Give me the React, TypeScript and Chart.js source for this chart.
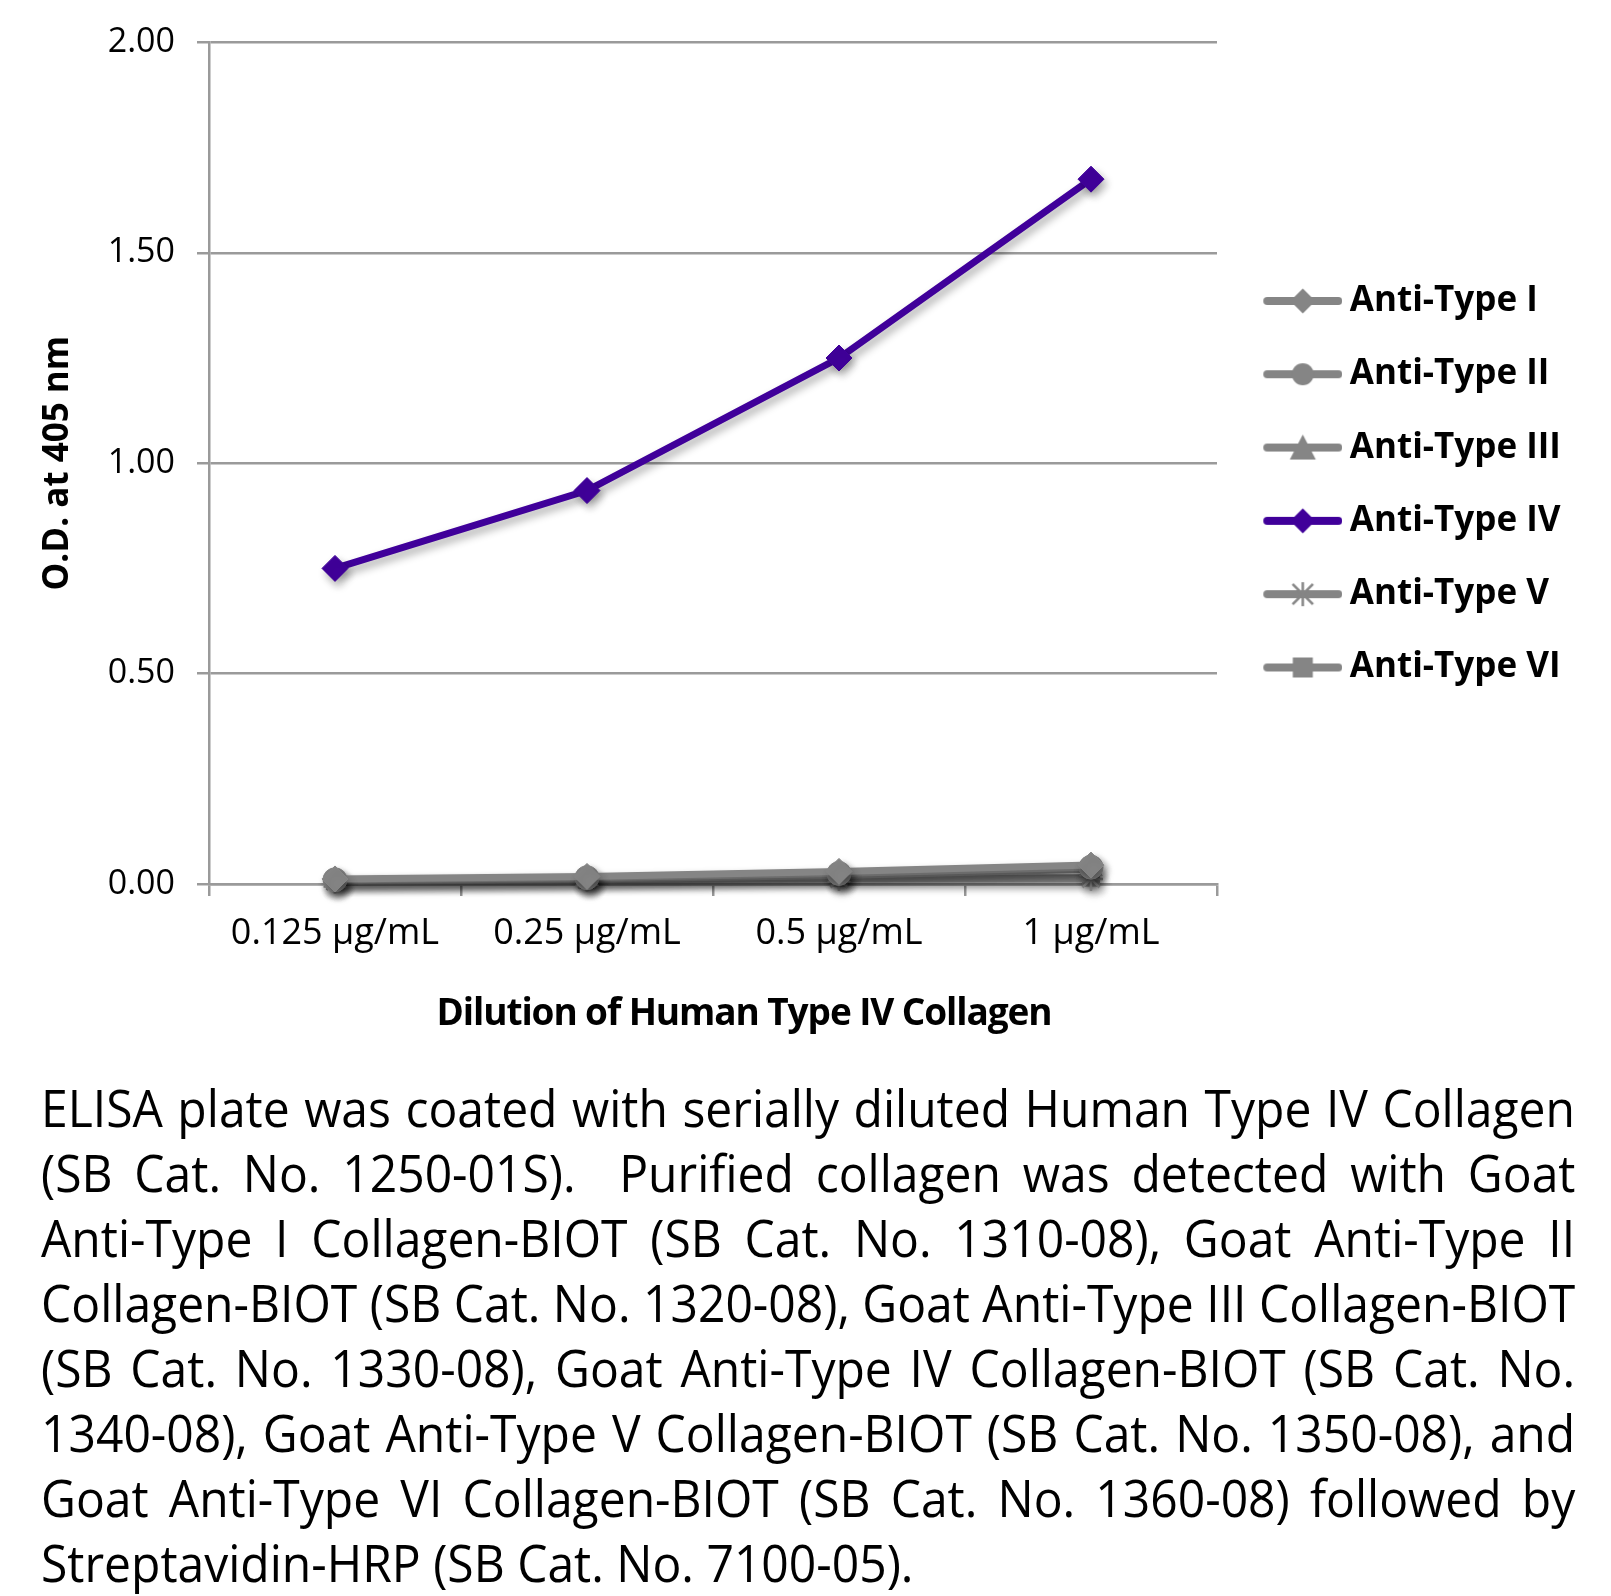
import React, { useEffect, useLayoutEffect, useRef } from 'react';
import { Chart, registerables } from 'chart.js';

Chart.register(...registerables);

// ---------------- data ----------------
const categories = ['0.125 µg/mL', '0.25 µg/mL', '0.5 µg/mL', '1 µg/mL'];
const seriesNames = ['Anti-Type I', 'Anti-Type II', 'Anti-Type III', 'Anti-Type IV', 'Anti-Type V', 'Anti-Type VI'];
const antiTypeI = [0.012, 0.018, 0.03, 0.045];
const antiTypeII = [0.01, 0.015, 0.025, 0.04];
const antiTypeIII = [0.008, 0.012, 0.02, 0.035];
const antiTypeIV = [0.75, 0.935, 1.25, 1.675];
const antiTypeV = [0.006, 0.01, 0.012, 0.012];
const antiTypeVI = [0.008, 0.01, 0.015, 0.015];
const yTickValues = [0, 0.5, 1, 1.5, 2];
const yTitle = 'O.D. at 405 nm';
const xTitle = 'Dilution of Human Type IV Collagen';
const captionLines = [
  'ELISA plate was coated with serially diluted Human Type IV Collagen',
  '(SB Cat. No. 1250-01S).  Purified collagen was detected with Goat',
  'Anti-Type I Collagen-BIOT (SB Cat. No. 1310-08), Goat Anti-Type II',
  'Collagen-BIOT (SB Cat. No. 1320-08), Goat Anti-Type III Collagen-BIOT',
  '(SB Cat. No. 1330-08), Goat Anti-Type IV Collagen-BIOT (SB Cat. No.',
  '1340-08), Goat Anti-Type V Collagen-BIOT (SB Cat. No. 1350-08), and',
  'Goat Anti-Type VI Collagen-BIOT (SB Cat. No. 1360-08) followed by',
  'Streptavidin-HRP (SB Cat. No. 7100-05).',
];

// ---------------- styles ----------------
const GRAY = '#858585';
const PURPLE = '#40009a';
const GRID = '#9a9a9a';
const FONT = "'Open Sans', 'Noto Sans', sans-serif";
const seriesValues = [antiTypeI, antiTypeII, antiTypeIII, antiTypeIV, antiTypeV, antiTypeVI];
const seriesColors = [GRAY, GRAY, GRAY, PURPLE, GRAY, GRAY];
const seriesMarkers = ['rectRot', 'circle', 'triangle', 'rectRot', 'star', 'rect'];
const seriesRadius = [13, 12, 13, 13, 12, 12];

const CANVAS_W = 1611;
const CANVAS_H = 1040;
const CAPTION_W = 1534;

function makeLegendIcon(color: string, marker: string) {
  const c = document.createElement('canvas');
  c.width = 97;
  c.height = 34;
  const g = c.getContext('2d')!;
  const cy = 17;
  g.strokeStyle = color;
  g.fillStyle = color;
  g.lineCap = 'round';
  g.lineWidth = 8;
  g.beginPath();
  g.moveTo(22, cy);
  g.lineTo(93, cy);
  g.stroke();
  const cx = 57.5;
  const r = 12.5;
  g.beginPath();
  if (marker === 'rectRot') {
    g.moveTo(cx, cy - r);
    g.lineTo(cx + r, cy);
    g.lineTo(cx, cy + r);
    g.lineTo(cx - r, cy);
    g.closePath();
    g.fill();
  } else if (marker === 'circle') {
    g.arc(cx, cy, 11, 0, Math.PI * 2);
    g.fill();
  } else if (marker === 'triangle') {
    g.moveTo(cx, cy - 13);
    g.lineTo(cx + 13, cy + 12);
    g.lineTo(cx - 13, cy + 12);
    g.closePath();
    g.fill();
  } else if (marker === 'rect') {
    g.rect(cx - 10, cy - 10, 20, 20);
    g.fill();
  } else if (marker === 'star') {
    g.lineWidth = 2.5;
    g.lineCap = 'butt';
    const a = 12;
    g.moveTo(cx, cy - a);
    g.lineTo(cx, cy + a);
    g.moveTo(cx - a * 0.85, cy - a * 0.85);
    g.lineTo(cx + a * 0.85, cy + a * 0.85);
    g.moveTo(cx + a * 0.85, cy - a * 0.85);
    g.lineTo(cx - a * 0.85, cy + a * 0.85);
    g.stroke();
  }
  return c;
}

const shadowPlugin = {
  id: 'excelShadow',
  beforeDatasetsDraw(chart: any) {
    const ctx = chart.ctx;
    ctx.save();
    ctx.shadowColor = 'rgba(0,0,0,0.32)';
    ctx.shadowBlur = 9;
    ctx.shadowOffsetX = 3;
    ctx.shadowOffsetY = 5;
  },
  afterDatasetsDraw(chart: any) {
    chart.ctx.restore();
  },
};

export default function App() {
  const canvasRef = useRef<HTMLCanvasElement | null>(null);
  const captionRef = useRef<HTMLDivElement | null>(null);
  const lineRefs = useRef<(HTMLSpanElement | null)[]>([]);

  useEffect(() => {
    const canvas = canvasRef.current;
    if (!canvas) return;
    const icons = seriesNames.map((_, i) => makeLegendIcon(seriesColors[i], seriesMarkers[i]));
    const chart = new Chart(canvas, {
      type: 'line',
      data: {
        labels: categories,
        datasets: seriesNames.map((name, i) => ({
          label: name,
          data: seriesValues[i],
          borderColor: seriesColors[i],
          backgroundColor: seriesColors[i],
          borderWidth: 7,
          pointStyle: seriesMarkers[i] as any,
          pointRadius: seriesRadius[i],
          pointHoverRadius: seriesRadius[i],
          pointBackgroundColor: seriesColors[i],
          pointBorderColor: seriesColors[i],
          pointBorderWidth: seriesMarkers[i] === 'star' ? 2.5 : 1,
          tension: 0,
          clip: false as any,
        })),
      },
      options: {
        responsive: false,
        animation: false,
        events: [],
        layout: { padding: { top: 42, left: 0, right: 0, bottom: 56 } },
        plugins: {
          tooltip: { enabled: false },
          legend: {
            position: 'right',
            align: 'center',
            fullSize: false,
            maxWidth: CANVAS_W - 1217,
            title: {
              display: true,
              text: '',
              font: { size: 10 },
              padding: { top: 15, bottom: 15 },
            },
            labels: {
              usePointStyle: true,
              pointStyleWidth: 77,
              padding: 38.3,
              color: '#000',
              font: { family: FONT, size: 35, weight: 'bold' },
              generateLabels: () =>
                seriesNames.map((name, i) => ({
                  text: name + '\u00a0'.repeat(12),
                  fillStyle: seriesColors[i],
                  strokeStyle: seriesColors[i],
                  fontColor: '#000',
                  lineWidth: 0,
                  pointStyle: icons[i] as any,
                  hidden: false,
                  datasetIndex: i,
                })),
            },
          },
        },
        scales: {
          x: {
            type: 'category',
            offset: true,
            afterFit: (s: any) => {
              s.height = 100;
            },
            grid: {
              display: true,
              offset: true,
              drawOnChartArea: false,
              drawTicks: true,
              tickLength: 12,
              color: GRID,
              lineWidth: 2.5,
            },
            border: { display: true, color: GRID, width: 2.5 },
            ticks: {
              color: '#000',
              padding: 16,
              maxRotation: 0,
              autoSkip: false,
              font: { family: FONT, size: 36 },
            },
          },
          y: {
            min: 0,
            max: 2,
            afterFit: (s: any) => {
              s.width = 209;
            },
            afterBuildTicks: (s: any) => {
              s.ticks = yTickValues.map((v) => ({ value: v }));
            },
            grid: {
              color: GRID,
              lineWidth: 2.5,
              drawTicks: true,
              tickLength: 12,
            },
            border: { display: true, color: GRID, width: 2.5 },
            ticks: {
              color: '#000',
              padding: 22,
              font: { family: FONT, size: 34 },
              callback: (v: any) => Number(v).toFixed(2),
            },
            title: {
              display: true,
              text: yTitle,
              color: '#000',
              font: { family: FONT, size: 35, weight: 'bold' },
              padding: { top: 37.5, bottom: 0 },
            },
          },
        },
      },
      plugins: [shadowPlugin],
    });
    return () => chart.destroy();
  }, []);

  useLayoutEffect(() => {
    const fit = () => {
      const spans = lineRefs.current;
      spans.forEach((sp) => {
        if (sp) sp.style.wordSpacing = '0px';
      });
      const widths = spans.map((sp) => (sp ? sp.offsetWidth : 0));
      const scale = Math.min(1, CAPTION_W / widths[3]);
      spans.forEach((sp, i) => {
        if (!sp) return;
        const last = i === captionLines.length - 1;
        const spaces = (captionLines[i].match(/ /g) || []).length;
        const ws = last ? 0 : (CAPTION_W / scale - widths[i]) / spaces;
        sp.style.wordSpacing = ws + 'px';
      });
      if (captionRef.current) captionRef.current.style.transform = `scaleX(${scale})`;
    };
    fit();
    if ((document as any).fonts && (document as any).fonts.ready) {
      (document as any).fonts.ready.then(fit);
    }
  }, []);

  return (
    <div
      style={{
        position: 'absolute',
        left: 0,
        top: 0,
        width: 1611,
        height: 1596,
        overflow: 'hidden',
        background: '#fff',
      }}
    >
      <canvas
        ref={canvasRef}
        width={CANVAS_W}
        height={CANVAS_H}
        style={{ position: 'absolute', left: 0, top: 0, width: CANVAS_W, height: CANVAS_H }}
      />
      <div
        style={{
          position: 'absolute',
          left: 0,
          top: 989,
          width: 1488,
          textAlign: 'center',
          fontFamily: FONT,
          fontWeight: 700,
          fontSize: 37,
          lineHeight: '44px',
          letterSpacing: '-1.1px',
          color: '#000',
        }}
      >
        {xTitle}
      </div>
      <div
        ref={captionRef}
        style={{
          position: 'absolute',
          left: 41,
          top: 1074,
          transformOrigin: '0 0',
          fontFamily: FONT,
          fontSize: 52,
          lineHeight: '65px',
          color: '#000',
          whiteSpace: 'pre',
        }}
      >
        {captionLines.map((line, i) => (
          <div key={i} style={{ height: 65 }}>
            <span
              ref={(el) => {
                lineRefs.current[i] = el;
              }}
              style={{ display: 'inline-block' }}
            >
              {line}
            </span>
          </div>
        ))}
      </div>
    </div>
  );
}
